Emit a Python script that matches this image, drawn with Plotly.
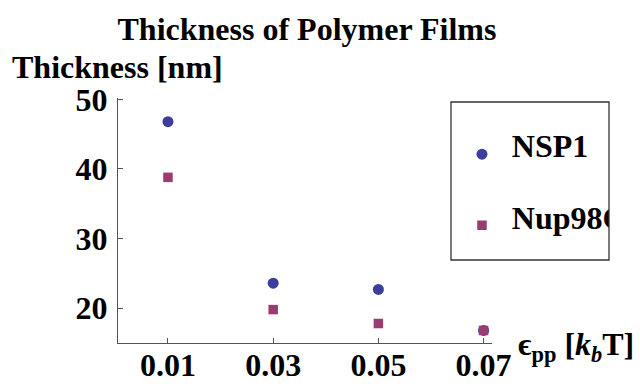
import plotly.graph_objects as go

# Interaction strength (k_b T) and film thickness (nm)
epsilon_pp = [0.01, 0.03, 0.05, 0.07]
nsp1 = [46.8, 23.6, 22.7, 16.8]
nup98 = [38.8, 19.8, 17.8, 16.8]
x_ticks = [0.01, 0.03, 0.05, 0.07]
x_tick_text = ["0.01", "0.03", "0.05", "0.07"]
y_ticks = [20, 30, 40, 50]
series_names = ["NSP1", "Nup98C"]

BLUE = "#3d3d9e"
MAGENTA = "#993d71"
FONT = "Liberation Serif"
AXIS = "#555555"
FS = 32

W, H = 640, 386
L, R, T, B = 118, 20, 98, 43
PLOT_RIGHT = 492           # right end of the data axes, px
# legend frame in pixels
LG_X0, LG_X1, LG_Y0, LG_Y1 = 451, 609, 102, 260


def to_paper_x(xp):
    return (xp - L) / (W - L - R)


def to_paper_y(yp):
    return (H - B - yp) / (H - T - B)


fig = go.Figure()
fig.add_trace(go.Scatter(x=epsilon_pp, y=nsp1, mode="markers", name=series_names[0],
                         marker=dict(symbol="circle", size=11, color=BLUE)))
fig.add_trace(go.Scatter(x=epsilon_pp, y=nup98, mode="markers", name=series_names[1],
                         marker=dict(symbol="square", size=9.5, color=MAGENTA)))

# legend drawn inside its own small subplot so long labels clip at the frame
legend_rows = [0.67, 0.22]
legend_styles = [dict(symbol="circle", size=11, color=BLUE),
                 dict(symbol="square", size=9.5, color=MAGENTA)]
for name, row, mk in zip(series_names, legend_rows, legend_styles):
    fig.add_trace(go.Scatter(x=[0.196], y=[row], mode="markers", marker=mk,
                             xaxis="x2", yaxis="y2", cliponaxis=True,
                             hoverinfo="skip"))
    fig.add_trace(go.Scatter(x=[0.385], y=[row + 0.03], mode="text",
                             text=["<b>%s</b>" % name], textposition="middle right",
                             textfont=dict(family=FONT, size=FS, color="black"),
                             xaxis="x2", yaxis="y2", cliponaxis=True,
                             hoverinfo="skip"))

tick_font = dict(family=FONT, size=FS, color="black", weight="bold")
fig.update_layout(
    xaxis=dict(domain=[0, to_paper_x(PLOT_RIGHT)], automargin=False,
               range=[0.0005, 0.0716], tickvals=x_ticks, ticktext=x_tick_text,
               ticks="inside", ticklen=5, tickcolor=AXIS, tickwidth=1,
               showline=True, linecolor=AXIS, linewidth=1.3,
               showgrid=False, zeroline=False, tickfont=tick_font,
               ticklabelstandoff=-7),
    yaxis=dict(range=[15, 50.2], tickvals=y_ticks, automargin=False,
               ticks="inside", ticklen=5, tickcolor=AXIS, tickwidth=1,
               showline=True, linecolor=AXIS, linewidth=1.3,
               showgrid=False, zeroline=False, tickfont=tick_font,
               ticklabelstandoff=3),
    xaxis2=dict(domain=[to_paper_x(LG_X0), to_paper_x(LG_X1)], range=[0, 1],
                anchor="y2", visible=False, fixedrange=True, automargin=False),
    yaxis2=dict(domain=[to_paper_y(LG_Y1), to_paper_y(LG_Y0)], range=[0, 1],
                anchor="x2", visible=False, fixedrange=True, automargin=False),
)

shapes = [
    dict(type="rect", xref="paper", yref="paper", layer="above",
         x0=to_paper_x(LG_X0), x1=to_paper_x(LG_X1),
         y0=to_paper_y(LG_Y1), y1=to_paper_y(LG_Y0),
         line=dict(color="#333333", width=1.3), fillcolor="rgba(0,0,0,0)"),
]

annotations = [
    dict(text="<b>Thickness [nm]</b>", xref="paper", yref="paper",
         x=to_paper_x(10), y=to_paper_y(67), xanchor="left", yanchor="middle",
         showarrow=False, font=dict(family=FONT, size=FS, color="black")),
    dict(text="<b>ϵ<sub>pp</sub> [<i>k</i><sub><i>b</i></sub>T]</b>",
         xref="paper", yref="paper",
         x=to_paper_x(516), y=to_paper_y(346), xanchor="left", yanchor="middle",
         showarrow=False, font=dict(family=FONT, size=FS, color="black")),
]

fig.update_layout(
    width=W, height=H,
    margin=dict(l=L, r=R, t=T, b=B, autoexpand=False),
    paper_bgcolor="white", plot_bgcolor="white",
    title=dict(text="<b>Thickness of Polymer Films</b>", xref="container",
               yref="container", x=307 / W, y=1 - 29 / H,
               xanchor="center", yanchor="middle",
               font=dict(family=FONT, size=FS, color="black")),
    shapes=shapes, annotations=annotations,
    showlegend=False,
)

fig.write_html("out.html")
